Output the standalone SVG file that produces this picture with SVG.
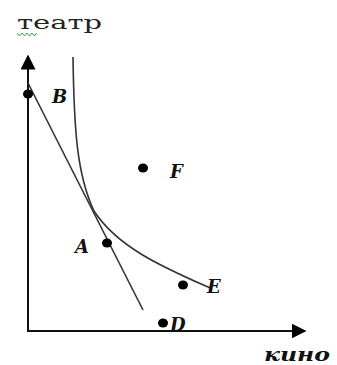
<svg xmlns="http://www.w3.org/2000/svg" width="337" height="365" viewBox="0 0 337 365">
<style>
.ax{stroke:#111;stroke-width:2;fill:none}
.ln{stroke:#333;stroke-width:1.6;fill:none}
.dot{fill:#000}
.lbl{font-family:"DejaVu Serif","Liberation Serif",serif;font-style:italic;font-weight:bold;font-size:18px;fill:#111}
.ttl{font-family:"DejaVu Serif","Liberation Serif",serif;font-size:18px;fill:#222}
</style>
<defs>
<marker id="arr" viewBox="0 0 10 10" refX="9" refY="5" markerWidth="15" markerHeight="15" markerUnits="userSpaceOnUse" orient="auto">
<path d="M0,0 L10,5 L0,10 Z" fill="#000"/>
</marker>
</defs>
<rect width="337" height="365" fill="#fff"/>
<g id="title">
<text class="ttl" x="17" y="29" textLength="85" lengthAdjust="spacingAndGlyphs">театр</text>
<path d="M17,33 l2.5,3 l2.5,-3 l2.5,3 l2.5,-3 l2.5,3 l2.5,-3 l2.5,3 l2,-3" stroke="#3a3" stroke-width="1" fill="none"/>
</g>
<g id="connectors">
<line class="ax" x1="28" y1="331" x2="28" y2="56" marker-end="url(#arr)"/>
<line class="ax" x1="27" y1="331" x2="305" y2="331" marker-end="url(#arr)"/>
<line class="ln" x1="28" y1="83" x2="143" y2="310"/>
<path class="ln" d="M73,57 C74,130 77,175 94,211 C118,248 165,268 210,288"/>
</g>
<g id="nodeB"><ellipse class="dot" cx="28" cy="94" rx="5" ry="4.5"/><text class="lbl" x="52" y="103" textLength="20">B</text></g>
<g id="nodeF"><ellipse class="dot" cx="143" cy="168" rx="5" ry="4.5"/><text class="lbl" x="170" y="178" textLength="19">F</text></g>
<g id="nodeA"><ellipse class="dot" cx="107" cy="243" rx="5" ry="4.5"/><text class="lbl" x="75" y="253" textLength="20">A</text></g>
<g id="nodeE"><ellipse class="dot" cx="183" cy="285" rx="5" ry="4.5"/><text class="lbl" x="207" y="293" textLength="18">E</text></g>
<g id="nodeD"><ellipse class="dot" cx="163" cy="323" rx="5" ry="4.5"/><text class="lbl" x="170" y="331" textLength="20">D</text></g>
<g id="xlabel"><text class="lbl" x="264" y="361" font-size="18" textLength="66" lengthAdjust="spacingAndGlyphs">кино</text></g>
</svg>
